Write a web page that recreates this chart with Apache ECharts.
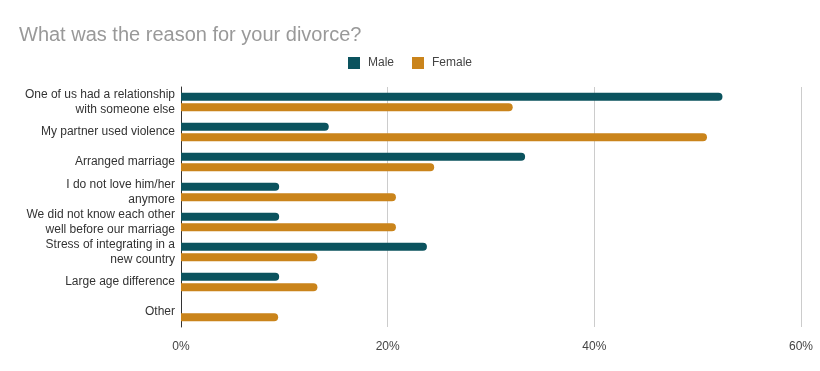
<!DOCTYPE html>
<html>
<head>
<meta charset="utf-8">
<script src="https://cdn.jsdelivr.net/npm/echarts@6/dist/echarts.min.js"></script>
<style>html,body{margin:0;padding:0;background:#fff;}#c{width:820px;height:371px;}</style>
</head>
<body>
<div id="c"></div>
<script>
var categories = [
  "One of us had a relationship\nwith someone else",
  "My partner used violence",
  "Arranged marriage",
  "I do not love him/her\nanymore",
  "We did not know each other\nwell before our marriage",
  "Stress of integrating in a\nnew country",
  "Large age difference",
  "Other"
];
var maleValues = [52.4, 14.3, 33.3, 9.5, 9.5, 23.8, 9.5, 0];
var femaleValues = [32.1, 50.9, 24.5, 20.8, 20.8, 13.2, 13.2, 9.4];
var xTicks = [0, 20, 40, 60];

var chart = echarts.init(document.getElementById('c'), null, {renderer: 'canvas'});
var font = 'Liberation Sans, Arial, sans-serif';
chart.setOption({
  animation: false,
  backgroundColor: '#ffffff',
  title: {
    text: 'What was the reason for your divorce?',
    left: 14, top: 20,
    textStyle: {fontFamily: font, fontSize: 20, fontWeight: 'normal', color: '#999999'}
  },
  legend: {
    data: ['Male', 'Female'],
    top: 52, left: 'center',
    itemWidth: 12, itemHeight: 12, itemGap: 18,
    icon: 'rect',
    textStyle: {fontFamily: font, fontSize: 12, color: '#444444', padding: [0, 0, 0, 3]}
  },
  grid: {left: 181, right: 19, top: 87, bottom: 44, containLabel: false},
  xAxis: {
    type: 'value', min: xTicks[0], max: xTicks[xTicks.length - 1], interval: 20,
    axisLine: {show: false}, axisTick: {show: false},
    splitLine: {lineStyle: {color: '#cccccc', width: 1}},
    axisLabel: {fontFamily: font, fontSize: 12, color: '#444444', margin: 14,
      formatter: function (v) { return v + '%'; }}
  },
  yAxis: {
    type: 'category', data: categories, inverse: true,
    axisLine: {show: true, lineStyle: {color: '#333333', width: 1}},
    axisTick: {show: false},
    axisLabel: {fontFamily: font, fontSize: 12, color: '#333333', margin: 6,
      lineHeight: 15, align: 'right'}
  },
  series: [
    {name: 'Male', type: 'bar', data: maleValues, barWidth: 8, barGap: '30%',
      itemStyle: {color: '#0b535e', borderRadius: [0, 4, 4, 0]}},
    {name: 'Female', type: 'bar', data: femaleValues, barWidth: 8,
      itemStyle: {color: '#ca841b', borderRadius: [0, 4, 4, 0]}}
  ]
});
</script>
</body>
</html>
